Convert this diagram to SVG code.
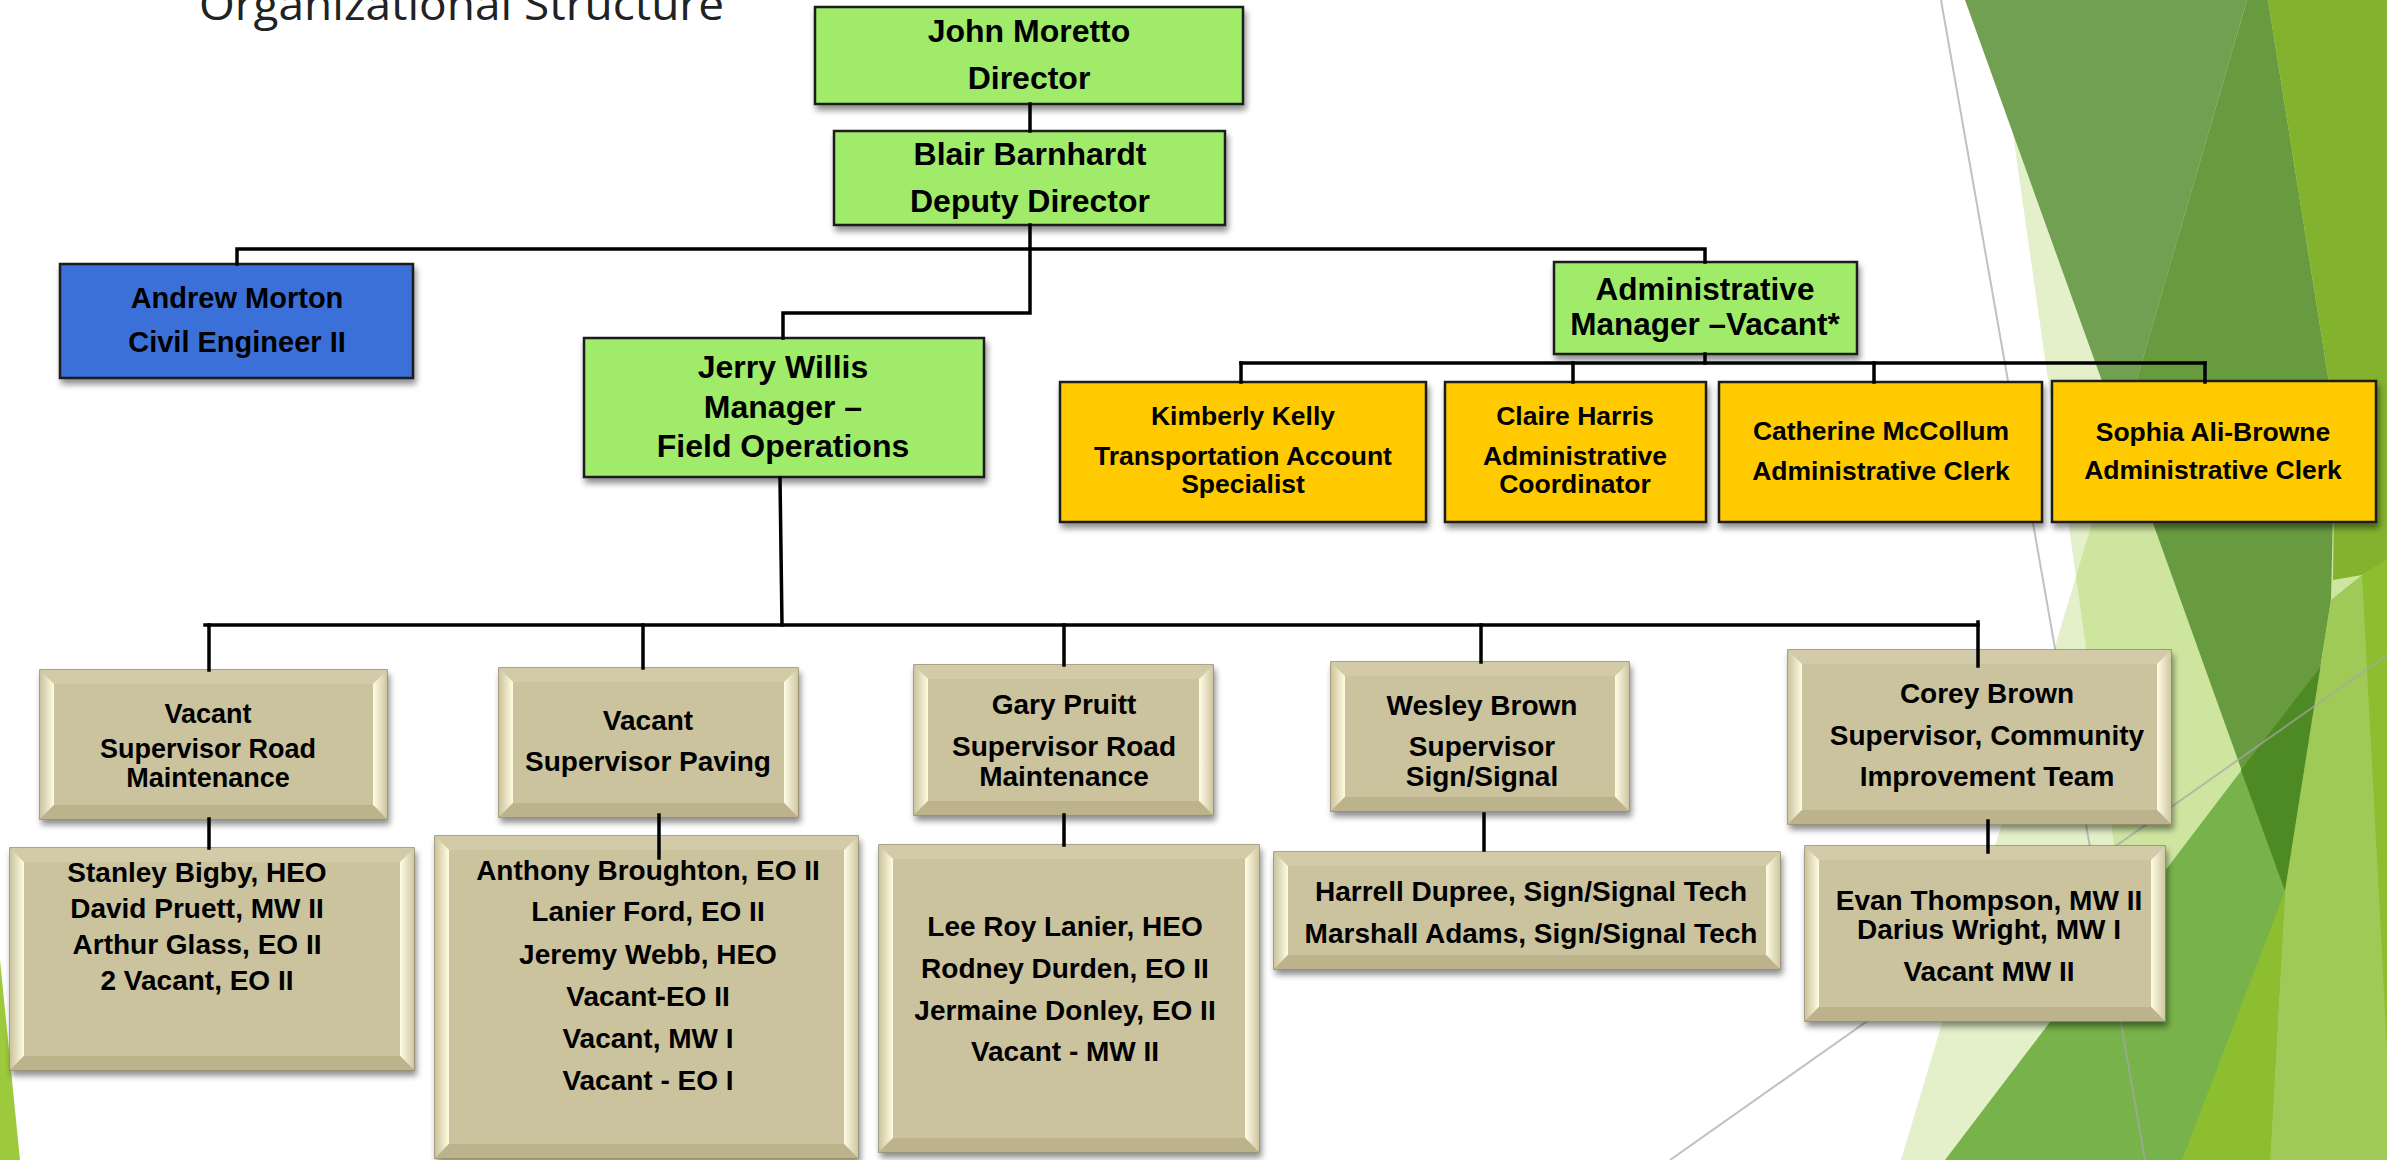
<svg xmlns="http://www.w3.org/2000/svg" width="2387" height="1160" viewBox="0 0 2387 1160">
<defs>
 <filter id="sh" x="-10%" y="-10%" width="125%" height="140%">
  <feGaussianBlur in="SourceAlpha" stdDeviation="3"/>
  <feOffset dx="2" dy="5"/>
  <feComponentTransfer><feFuncA type="linear" slope="0.45"/></feComponentTransfer>
  <feMerge><feMergeNode/><feMergeNode in="SourceGraphic"/></feMerge>
 </filter>
 <linearGradient id="bl" x1="0" y1="0" x2="1" y2="0"><stop offset="0" stop-color="#CCC49E"/><stop offset="1" stop-color="#FFFCE2"/></linearGradient>
 <linearGradient id="br" x1="0" y1="0" x2="1" y2="0"><stop offset="0" stop-color="#FFFDE6"/><stop offset="1" stop-color="#CFC7A1"/></linearGradient>
</defs>
<style>
 .t{font-family:"Liberation Sans",Arial,sans-serif;font-weight:bold;fill:#000;text-anchor:middle}
 .s32{font-size:32px}.s31{font-size:31.5px}.s29{font-size:29px}.s28{font-size:28px}.s27{font-size:27px}.s26{font-size:26.5px}
 .gr{fill:#A0EB6B;stroke:#1a1a1a;stroke-width:2.5}
 .bu{fill:#3B6FD9;stroke:#1a1a1a;stroke-width:2.5}
 .ye{fill:#FFCB05;stroke:#1a1a1a;stroke-width:2.5}
 .tb{fill:#C8BF99;stroke:#8F8866;stroke-width:1.5}
 .bt{fill:#D3CBA7}.bb{fill:#BCB38C}.tf{fill:#CBC39E}
 .ln{stroke:#000;stroke-width:3.5;fill:none;stroke-linecap:square}
 .lt{fill:#90C226;fill-opacity:0.25}
</style>
<rect width="2387" height="1160" fill="#FFFFFF"/>
<g id="background">
 <polygon class="lt" points="1994,0 2387,0 2387,1160 2159,1160"/>
 <polygon class="lt" points="2249,0 2387,0 2387,1160 1901,1160"/>
 <polygon fill="#72A052" points="1965,0 2247,0 2121,434"/>
 <polygon fill="#689B3F" points="2247,0 2268,0 2335,420 2331,600 2285,891 2121,434"/>
 <polygon fill="#77B24A" points="1945,1160 2387,579 2387,1160"/>
 <polygon fill="#4E8A24" points="2241,770 2321,666 2285,891"/>
 <polygon fill="#A0CA58" points="2331,600 2362,575 2387,560 2387,1160 2270,1160 2285,891"/>
 <polygon fill="#8DBE2F" points="2182,1160 2285,891 2270,1160"/>
 <polygon fill="#8DBE30" points="2362,575 2387,560 2387,1050"/>
 <polygon fill="#83B22F" points="2268,0 2387,0 2387,560 2362,575 2333,580 2335,420"/>
 <polygon fill="#9DC93C" points="0,960 20,1160 0,1160"/>
 <line x1="1941" y1="0" x2="2145" y2="1160" stroke="#A6A6A6" stroke-width="2" stroke-opacity="0.7"/>
 <line x1="1670" y1="1160" x2="2387" y2="655" stroke="#A6A6A6" stroke-width="2" stroke-opacity="0.7"/>
 <text x="199" y="20" font-family="Open Sans, sans-serif" font-size="44" textLength="525" lengthAdjust="spacingAndGlyphs" fill="#222">Organizational Structure</text>
</g>
<g id="nodes">
 <g id="john"><rect class="gr" x="815" y="7" width="428" height="97" filter="url(#sh)"/>
  <text class="t s32" x="1029" y="42">John Moretto</text><text class="t s32" x="1029" y="89">Director</text></g>
 <g id="blair"><rect class="gr" x="834" y="131" width="391" height="94" filter="url(#sh)"/>
  <text class="t s32" x="1030" y="165">Blair Barnhardt</text><text class="t s32" x="1030" y="212">Deputy Director</text></g>
 <g id="andrew"><rect class="bu" x="60" y="264" width="353" height="114" filter="url(#sh)"/>
  <text class="t s29" x="237" y="308">Andrew Morton</text><text class="t s29" x="237" y="352">Civil Engineer II</text></g>
 <g id="jerry"><rect class="gr" x="584" y="338" width="400" height="139" filter="url(#sh)"/>
  <text class="t s32" x="783" y="378">Jerry Willis</text><text class="t s32" x="783" y="418">Manager –</text><text class="t s32" x="783" y="457">Field Operations</text></g>
 <g id="admin"><rect class="gr" x="1554" y="262" width="303" height="92" filter="url(#sh)"/>
  <text class="t s31" x="1705" y="300">Administrative</text><text class="t s31" x="1705" y="335">Manager –Vacant*</text></g>
 <g id="kimberly"><rect class="ye" x="1060" y="382" width="366" height="140" filter="url(#sh)"/>
  <text class="t s26" x="1243" y="425">Kimberly Kelly</text><text class="t s26" x="1243" y="465">Transportation Account</text><text class="t s26" x="1243" y="493">Specialist</text></g>
 <g id="claire"><rect class="ye" x="1445" y="382" width="261" height="140" filter="url(#sh)"/>
  <text class="t s26" x="1575" y="425">Claire Harris</text><text class="t s26" x="1575" y="465">Administrative</text><text class="t s26" x="1575" y="493">Coordinator</text></g>
 <g id="catherine"><rect class="ye" x="1719" y="382" width="323" height="140" filter="url(#sh)"/>
  <text class="t s26" x="1881" y="440">Catherine McCollum</text><text class="t s26" x="1881" y="480">Administrative Clerk</text></g>
 <g id="sophia"><rect class="ye" x="2052" y="381" width="324" height="141" filter="url(#sh)"/>
  <text class="t s26" x="2213" y="441">Sophia Ali-Browne</text><text class="t s26" x="2213" y="479">Administrative Clerk</text></g>

 <g id="sup1"><rect class="tb" x="40" y="670" width="347" height="149" filter="url(#sh)"/>
  <polygon class="bt" points="40,670 387,670 373,684 54,684"/><polygon fill="url(#bl)" points="40,670 54,684 54,805 40,819"/>
  <polygon fill="url(#br)" points="387,670 387,819 373,805 373,684"/><polygon class="bb" points="40,819 387,819 373,805 54,805"/>
  <rect class="tf" x="54" y="684" width="319" height="121"/>
  <text class="t s27" x="208" y="723">Vacant</text><text class="t s27" x="208" y="758">Supervisor Road</text><text class="t s27" x="208" y="787">Maintenance</text></g>
 <g id="staff1"><rect class="tb" x="10" y="848" width="404" height="222" filter="url(#sh)"/>
  <polygon class="bt" points="10,848 414,848 400,862 24,862"/><polygon fill="url(#bl)" points="10,848 24,862 24,1056 10,1070"/>
  <polygon fill="url(#br)" points="414,848 414,1070 400,1056 400,862"/><polygon class="bb" points="10,1070 414,1070 400,1056 24,1056"/>
  <rect class="tf" x="24" y="862" width="376" height="194"/>
  <text class="t s28" x="197" y="882">Stanley Bigby, HEO</text><text class="t s28" x="197" y="918">David Pruett, MW II</text><text class="t s28" x="197" y="954">Arthur Glass, EO II</text><text class="t s28" x="197" y="990">2 Vacant, EO II</text></g>
 <g id="sup2"><rect class="tb" x="499" y="668" width="299" height="149" filter="url(#sh)"/>
  <polygon class="bt" points="499,668 798,668 784,682 513,682"/><polygon fill="url(#bl)" points="499,668 513,682 513,803 499,817"/>
  <polygon fill="url(#br)" points="798,668 798,817 784,803 784,682"/><polygon class="bb" points="499,817 798,817 784,803 513,803"/>
  <rect class="tf" x="513" y="682" width="271" height="121"/>
  <text class="t s28" x="648" y="730">Vacant</text><text class="t s28" x="648" y="771">Supervisor Paving</text></g>
 <g id="staff2"><rect class="tb" x="435" y="836" width="423" height="322" filter="url(#sh)"/>
  <polygon class="bt" points="435,836 858,836 844,850 449,850"/><polygon fill="url(#bl)" points="435,836 449,850 449,1144 435,1158"/>
  <polygon fill="url(#br)" points="858,836 858,1158 844,1144 844,850"/><polygon class="bb" points="435,1158 858,1158 844,1144 449,1144"/>
  <rect class="tf" x="449" y="850" width="395" height="294"/>
  <text class="t s28" x="648" y="880">Anthony Broughton, EO II</text><text class="t s28" x="648" y="921">Lanier Ford, EO II</text><text class="t s28" x="648" y="964">Jeremy Webb, HEO</text><text class="t s28" x="648" y="1006">Vacant-EO II</text><text class="t s28" x="648" y="1048">Vacant, MW I</text><text class="t s28" x="648" y="1090">Vacant - EO I</text></g>
 <g id="sup3"><rect class="tb" x="914" y="665" width="299" height="150" filter="url(#sh)"/>
  <polygon class="bt" points="914,665 1213,665 1199,679 928,679"/><polygon fill="url(#bl)" points="914,665 928,679 928,801 914,815"/>
  <polygon fill="url(#br)" points="1213,665 1213,815 1199,801 1199,679"/><polygon class="bb" points="914,815 1213,815 1199,801 928,801"/>
  <rect class="tf" x="928" y="679" width="271" height="122"/>
  <text class="t s28" x="1064" y="714">Gary Pruitt</text><text class="t s28" x="1064" y="756">Supervisor Road</text><text class="t s28" x="1064" y="786">Maintenance</text></g>
 <g id="staff3"><rect class="tb" x="879" y="845" width="380" height="307" filter="url(#sh)"/>
  <polygon class="bt" points="879,845 1259,845 1245,859 893,859"/><polygon fill="url(#bl)" points="879,845 893,859 893,1138 879,1152"/>
  <polygon fill="url(#br)" points="1259,845 1259,1152 1245,1138 1245,859"/><polygon class="bb" points="879,1152 1259,1152 1245,1138 893,1138"/>
  <rect class="tf" x="893" y="859" width="352" height="279"/>
  <text class="t s28" x="1065" y="936">Lee Roy Lanier, HEO</text><text class="t s28" x="1065" y="978">Rodney Durden, EO II</text><text class="t s28" x="1065" y="1020">Jermaine Donley, EO II</text><text class="t s28" x="1065" y="1061">Vacant - MW II</text></g>
 <g id="sup4"><rect class="tb" x="1331" y="662" width="298" height="149" filter="url(#sh)"/>
  <polygon class="bt" points="1331,662 1629,662 1615,676 1345,676"/><polygon fill="url(#bl)" points="1331,662 1345,676 1345,797 1331,811"/>
  <polygon fill="url(#br)" points="1629,662 1629,811 1615,797 1615,676"/><polygon class="bb" points="1331,811 1629,811 1615,797 1345,797"/>
  <rect class="tf" x="1345" y="676" width="270" height="121"/>
  <text class="t s28" x="1482" y="715">Wesley Brown</text><text class="t s28" x="1482" y="756">Supervisor</text><text class="t s28" x="1482" y="786">Sign/Signal</text></g>
 <g id="staff4"><rect class="tb" x="1274" y="852" width="506" height="117" filter="url(#sh)"/>
  <polygon class="bt" points="1274,852 1780,852 1766,866 1288,866"/><polygon fill="url(#bl)" points="1274,852 1288,866 1288,955 1274,969"/>
  <polygon fill="url(#br)" points="1780,852 1780,969 1766,955 1766,866"/><polygon class="bb" points="1274,969 1780,969 1766,955 1288,955"/>
  <rect class="tf" x="1288" y="866" width="478" height="89"/>
  <text class="t s28" x="1531" y="901">Harrell Dupree, Sign/Signal Tech</text><text class="t s28" x="1531" y="943">Marshall Adams, Sign/Signal Tech</text></g>
 <g id="sup5"><rect class="tb" x="1788" y="650" width="383" height="174" filter="url(#sh)"/>
  <polygon class="bt" points="1788,650 2171,650 2157,664 1802,664"/><polygon fill="url(#bl)" points="1788,650 1802,664 1802,810 1788,824"/>
  <polygon fill="url(#br)" points="2171,650 2171,824 2157,810 2157,664"/><polygon class="bb" points="1788,824 2171,824 2157,810 1802,810"/>
  <rect class="tf" x="1802" y="664" width="355" height="146"/>
  <text class="t s28" x="1987" y="703">Corey Brown</text><text class="t s28" x="1987" y="745">Supervisor, Community</text><text class="t s28" x="1987" y="786">Improvement Team</text></g>
 <g id="staff5"><rect class="tb" x="1805" y="846" width="360" height="175" filter="url(#sh)"/>
  <polygon class="bt" points="1805,846 2165,846 2151,860 1819,860"/><polygon fill="url(#bl)" points="1805,846 1819,860 1819,1007 1805,1021"/>
  <polygon fill="url(#br)" points="2165,846 2165,1021 2151,1007 2151,860"/><polygon class="bb" points="1805,1021 2165,1021 2151,1007 1819,1007"/>
  <rect class="tf" x="1819" y="860" width="332" height="147"/>
  <text class="t s28" x="1989" y="910">Evan Thompson, MW II</text><text class="t s28" x="1989" y="939">Darius Wright, MW I</text><text class="t s28" x="1989" y="981">Vacant MW II</text></g>
</g>
<g id="connectors">
 <line class="ln" x1="1030" y1="104" x2="1030" y2="131"/>
 <polyline class="ln" points="1030,225 1030,313 783,313 783,338"/>
 <polyline class="ln" points="237,264 237,249 1705,249 1705,262"/>
 <line class="ln" x1="1705" y1="354" x2="1705" y2="363"/>
 <line class="ln" x1="1241" y1="363" x2="2205" y2="363"/>
 <line class="ln" x1="1241" y1="363" x2="1241" y2="382"/>
 <line class="ln" x1="1573" y1="363" x2="1573" y2="382"/>
 <line class="ln" x1="1874" y1="363" x2="1874" y2="382"/>
 <line class="ln" x1="2205" y1="363" x2="2205" y2="382"/>
 <line class="ln" x1="780" y1="478" x2="782" y2="625"/>
 <line class="ln" x1="205" y1="625" x2="1978" y2="625"/>
 <line class="ln" x1="209" y1="625" x2="209" y2="670"/>
 <line class="ln" x1="643" y1="625" x2="643" y2="668"/>
 <line class="ln" x1="1064" y1="625" x2="1064" y2="665"/>
 <line class="ln" x1="1481" y1="625" x2="1481" y2="662"/>
 <line class="ln" x1="1978" y1="622" x2="1978" y2="666"/>
 <line class="ln" x1="209" y1="819" x2="209" y2="848"/>
 <line class="ln" x1="659" y1="815" x2="659" y2="858"/>
 <line class="ln" x1="1064" y1="815" x2="1064" y2="845"/>
 <line class="ln" x1="1484" y1="814" x2="1484" y2="850"/>
 <line class="ln" x1="1988" y1="821" x2="1988" y2="852"/>
</g>
</svg>
